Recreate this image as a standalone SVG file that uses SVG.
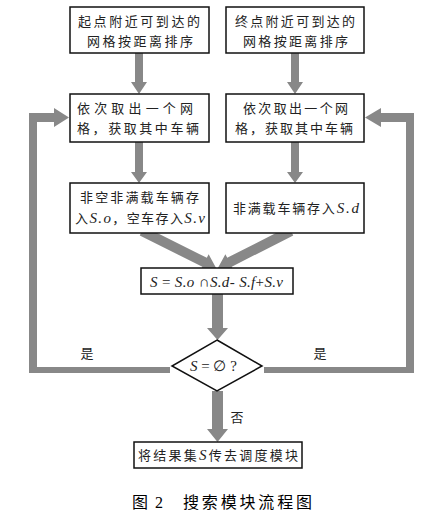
<svg xmlns="http://www.w3.org/2000/svg" width="432" height="518" viewBox="0 0 432 518">
<style>
.box{fill:#fff;stroke:#111;stroke-width:1.5}
.ar{fill:#888;stroke:none}
.t{font-family:"Noto Sans CJK SC","Noto Sans",sans-serif;font-size:13px;fill:#222}
.m{font-family:"Liberation Serif",serif;font-style:italic;font-size:15px}
.u{font-family:"Liberation Serif",serif;font-style:normal;font-size:15px}
.cap{font-family:"Noto Sans CJK SC","Noto Sans",sans-serif;font-size:16px;fill:#000;font-weight:normal}
</style>
<rect width="432" height="518" fill="#fff"/>
<g id="connectors">
  <polygon class="ar" points="135,53 143,53 143,82 147,82 139,94 131,82 135,82"/>
  <polygon class="ar" points="291,53 299,53 299,82 303,82 295,94 287,82 291,82"/>
  <polygon class="ar" points="135,142 143,142 143,172 147,172 139,183 131,172 135,172"/>
  <polygon class="ar" points="291,142 299,142 299,172 303,172 295,183 287,172 291,172"/>
  <polygon class="ar" transform="translate(142,231) rotate(26.57)" points="0,-5 70,-5 70,-9 83,0 70,9 70,5 0,5"/>
  <polygon class="ar" transform="translate(291,231) rotate(153.1)" points="0,-5 69,-5 69,-9 82,0 69,9 69,5 0,5"/>
  <polygon class="ar" points="212,294 223,294 223,328 228,328 217.5,340 207,328 212,328"/>
  <polygon class="ar" points="212,391 223,391 223,429 228,429 217.5,442 207,429 212,429"/>
  <polygon class="ar" points="170,367 170,373 29,373 29,113 54,113 54,108 69,117.5 54,127 54,122 37,122 37,367"/>
  <polygon class="ar" points="264,367 264,373 414,373 414,113 381,113 381,108 365,117.5 381,127 381,122 406,122 406,367"/>
</g>
<g id="n1">
  <rect class="box" x="70" y="7" width="139" height="46"/>
  <text class="t" x="78" y="26" textLength="122" lengthAdjust="spacing">起点附近可到达的</text>
  <text class="t" x="87" y="46" textLength="106" lengthAdjust="spacing">网格按距离排序</text>
</g>
<g id="n2">
  <rect class="box" x="226" y="7" width="138" height="46"/>
  <text class="t" x="235" y="26" textLength="120" lengthAdjust="spacing">终点附近可到达的</text>
  <text class="t" x="243" y="46" textLength="105" lengthAdjust="spacing">网格按距离排序</text>
</g>
<g id="n3">
  <rect class="box" x="70" y="94" width="139" height="48"/>
  <text class="t" x="77" y="113" textLength="116" lengthAdjust="spacing">依次取出一个网</text>
  <text class="t" x="77" y="133" textLength="122" lengthAdjust="spacing">格，获取其中车辆</text>
</g>
<g id="n4">
  <rect class="box" x="226" y="94" width="138" height="48"/>
  <text class="t" x="243" y="113" textLength="105" lengthAdjust="spacing">依次取出一个网</text>
  <text class="t" x="235" y="133" textLength="118" lengthAdjust="spacing">格，获取其中车辆</text>
</g>
<g id="n5">
  <rect class="box" x="70" y="183" width="139" height="50"/>
  <text class="t" x="80" y="202" textLength="119" lengthAdjust="spacing">非空非满载车辆存</text>
  <text class="t" x="75" y="223" textLength="130" lengthAdjust="spacing">入<tspan class="m">S.o</tspan>，空车存入<tspan class="m">S.v</tspan></text>
</g>
<g id="n6">
  <rect class="box" x="226" y="183" width="138" height="50"/>
  <text class="t" x="233" y="213" textLength="126" lengthAdjust="spacing">非满载车辆存入<tspan class="m">S.d</tspan></text>
</g>
<g id="n7">
  <rect class="box" x="141" y="268" width="152" height="26"/>
  <text class="m" x="150" y="287" textLength="133" lengthAdjust="spacing" fill="#222">S <tspan class="u">=</tspan> S.o <tspan class="u">∩</tspan>S.d- S.f<tspan class="u">+</tspan>S.v</text>
</g>
<g id="n8">
  <polygon class="box" points="217,340 262,366 217,391 172,366"/>
  <text class="m" x="190" y="371" fill="#222">S <tspan class="u">= ∅ ?</tspan></text>
</g>
<g id="n9">
  <rect class="box" x="134" y="442" width="168" height="26"/>
  <text class="t" x="138" y="460" textLength="160" lengthAdjust="spacing">将结果集<tspan class="m">S</tspan>传去调度模块</text>
</g>
<g id="labels">
  <text class="t" x="87" y="358" text-anchor="middle">是</text>
  <text class="t" x="320" y="358" text-anchor="middle">是</text>
  <text class="t" x="237" y="422" text-anchor="middle">否</text>
</g>
<g id="caption">
  <text class="cap" x="132" y="508">图</text>
  <text x="155" y="508" font-family="Liberation Serif, serif" font-size="16" fill="#000">2</text>
  <text class="cap" x="183" y="508" textLength="129" lengthAdjust="spacing">搜索模块流程图</text>
</g>
</svg>
